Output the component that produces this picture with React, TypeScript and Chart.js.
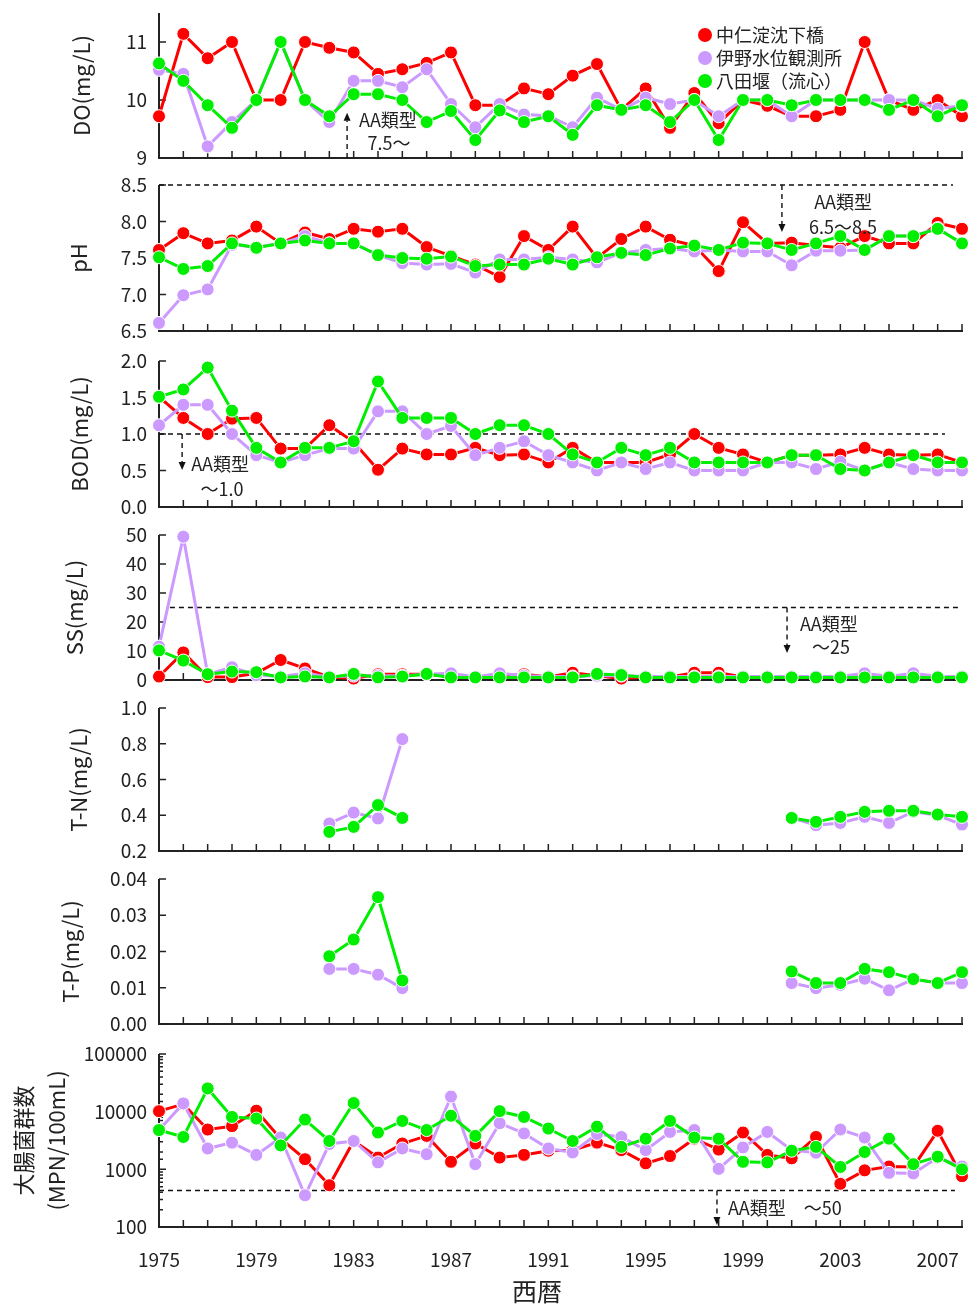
import { useEffect, useRef } from 'react';
import { Chart, registerables } from 'chart.js';

Chart.register(...registerables);

const FONT = "'Noto Sans CJK JP', 'Noto Sans', sans-serif";
Chart.defaults.font.family = FONT;
Chart.defaults.color = '#222';

// ---------------- data ----------------
const YEARS = [
  1975, 1976, 1977, 1978, 1979, 1980, 1981, 1982, 1983, 1984, 1985, 1986,
  1987, 1988, 1989, 1990, 1991, 1992, 1993, 1994, 1995, 1996, 1997, 1998,
  1999, 2000, 2001, 2002, 2003, 2004, 2005, 2006, 2007, 2008,
];
const X_TICK_LABELS = [1975, 1979, 1983, 1987, 1991, 1995, 1999, 2003, 2007];

const SERIES_NAMES = ['中仁淀沈下橋', '伊野水位観測所', '八田堰（流心）'];
const SERIES_COLORS = ['#ff0000', '#cc99ff', '#00ee00'];

const DO_RED = [9.72, 11.14, 10.72, 11.0, 10.0, 10.0, 11.0, 10.9, 10.82, 10.45, 10.53, 10.64, 10.82, 9.91, 9.91, 10.2, 10.1, 10.42, 10.62, 9.83, 10.2, 9.52, 10.12, 9.6, 10.0, 9.9, 9.72, 9.72, 9.83, 11.0, 10.0, 9.83, 10.0, 9.72];
const DO_PURPLE = [10.52, 10.45, 9.2, 9.62, 10.0, 11.0, 10.0, 9.62, 10.33, 10.33, 10.22, 10.53, 9.93, 9.53, 9.93, 9.75, 9.73, 9.53, 10.04, 9.83, 10.04, 9.93, 10.0, 9.72, 10.0, 10.0, 9.72, 10.0, 10.0, 10.0, 10.0, 10.0, 9.85, 9.9];
const DO_GREEN = [10.63, 10.33, 9.91, 9.52, 10.0, 11.0, 10.0, 9.72, 10.1, 10.1, 10.0, 9.62, 9.81, 9.31, 9.82, 9.62, 9.72, 9.4, 9.91, 9.83, 9.91, 9.62, 10.0, 9.31, 10.0, 10.0, 9.91, 10.0, 10.0, 10.0, 9.83, 10.0, 9.72, 9.91];

const PH_RED = [7.61, 7.84, 7.7, 7.74, 7.93, 7.7, 7.85, 7.76, 7.9, 7.86, 7.9, 7.65, 7.53, 7.41, 7.24, 7.8, 7.61, 7.93, 7.5, 7.76, 7.93, 7.75, 7.67, 7.32, 7.99, 7.7, 7.71, 7.67, 7.64, 7.8, 7.7, 7.7, 7.98, 7.9];
const PH_PURPLE = [6.61, 6.99, 7.07, 7.68, 7.65, 7.7, 7.8, 7.7, 7.7, 7.54, 7.43, 7.41, 7.42, 7.3, 7.48, 7.48, 7.51, 7.48, 7.44, 7.57, 7.61, 7.63, 7.59, 7.61, 7.59, 7.59, 7.4, 7.6, 7.6, 7.61, 7.8, 7.8, 7.91, 7.7];
const PH_GREEN = [7.51, 7.35, 7.39, 7.7, 7.64, 7.7, 7.74, 7.7, 7.7, 7.54, 7.5, 7.49, 7.52, 7.39, 7.41, 7.41, 7.49, 7.41, 7.51, 7.57, 7.54, 7.63, 7.67, 7.61, 7.71, 7.7, 7.61, 7.7, 7.8, 7.61, 7.8, 7.8, 7.9, 7.7];

const BOD_RED = [1.51, 1.22, 1.0, 1.21, 1.22, 0.8, 0.8, 1.12, 0.89, 0.51, 0.8, 0.72, 0.72, 0.81, 0.71, 0.72, 0.61, 0.81, 0.61, 0.61, 0.61, 0.72, 1.0, 0.81, 0.72, 0.61, 0.71, 0.71, 0.72, 0.81, 0.72, 0.71, 0.72, 0.61];
const BOD_PURPLE = [1.12, 1.4, 1.4, 1.0, 0.71, 0.61, 0.71, 0.8, 0.8, 1.31, 1.31, 1.0, 1.11, 0.71, 0.81, 0.9, 0.71, 0.61, 0.5, 0.61, 0.52, 0.61, 0.5, 0.5, 0.5, 0.61, 0.61, 0.52, 0.62, 0.5, 0.61, 0.52, 0.5, 0.5];
const BOD_GREEN = [1.51, 1.61, 1.91, 1.32, 0.81, 0.61, 0.81, 0.81, 0.9, 1.72, 1.22, 1.22, 1.22, 1.0, 1.12, 1.12, 1.0, 0.72, 0.61, 0.81, 0.71, 0.81, 0.61, 0.61, 0.61, 0.61, 0.71, 0.71, 0.52, 0.5, 0.61, 0.71, 0.61, 0.61];

const SS_RED = [1.2, 9.5, 1.0, 1.0, 2.3, 6.9, 4.0, 1.0, 0.5, 2.0, 2.0, 2.0, 1.2, 1.0, 1.2, 2.0, 1.0, 2.5, 1.5, 0.5, 1.0, 1.0, 2.5, 2.5, 1.0, 1.0, 1.0, 1.0, 1.0, 1.0, 1.0, 1.0, 1.0, 1.0];
const SS_PURPLE = [11.5, 49.4, 2.0, 4.4, 1.7, 1.2, 2.3, 1.0, 1.5, 1.5, 1.5, 2.0, 2.3, 1.0, 2.3, 1.5, 1.2, 1.2, 1.5, 1.5, 1.2, 1.2, 1.2, 1.2, 1.2, 1.2, 1.2, 1.2, 1.2, 2.3, 1.2, 2.3, 1.2, 1.2];
const SS_GREEN = [10.2, 6.7, 2.0, 2.9, 2.7, 0.9, 1.2, 0.9, 2.1, 0.9, 1.2, 2.1, 0.9, 0.9, 0.9, 0.9, 0.9, 0.9, 2.1, 1.7, 0.9, 0.9, 0.9, 0.9, 0.9, 0.9, 0.9, 0.9, 0.9, 0.9, 0.9, 0.9, 0.9, 0.9];

const N = null;
const TN_RED = [N, N, N, N, N, N, N, N, N, N, N, N, N, N, N, N, N, N, N, N, N, N, N, N, N, N, N, N, N, N, N, N, N, N];
const TN_PURPLE = [N, N, N, N, N, N, N, 0.354, 0.415, 0.382, 0.826, N, N, N, N, N, N, N, N, N, N, N, N, N, N, N, 0.385, 0.344, 0.357, 0.391, 0.357, 0.42, 0.4, 0.348];
const TN_GREEN = [N, N, N, N, N, N, N, 0.307, 0.335, 0.457, 0.385, N, N, N, N, N, N, N, N, N, N, N, N, N, N, N, 0.385, 0.363, 0.391, 0.419, 0.425, 0.425, 0.404, 0.391];

const TP_RED = [N, N, N, N, N, N, N, N, N, N, N, N, N, N, N, N, N, N, N, N, N, N, N, N, N, N, N, N, N, N, N, N, N, N];
const TP_PURPLE = [N, N, N, N, N, N, N, 0.0152, 0.0152, 0.0136, 0.0099, N, N, N, N, N, N, N, N, N, N, N, N, N, N, N, 0.0113, 0.0099, 0.0108, 0.0125, 0.0093, 0.0124, 0.0113, 0.0113];
const TP_GREEN = [N, N, N, N, N, N, N, 0.0187, 0.0233, 0.035, 0.012, N, N, N, N, N, N, N, N, N, N, N, N, N, N, N, 0.0145, 0.0113, 0.0113, 0.0152, 0.0143, 0.0124, 0.0113, 0.0143];

const COLI_RED = [10200, 13500, 4900, 5600, 10400, 3400, 1500, 530, 3100, 1600, 2800, 3800, 1350, 2800, 1600, 1780, 2100, 2150, 2900, 2150, 1270, 1700, 3400, 2200, 4350, 1780, 1550, 3640, 560, 960, 1120, 1100, 4660, 760];
const COLI_PURPLE = [4800, 13900, 2300, 2900, 1780, 3560, 355, 2750, 3100, 1320, 2300, 1830, 18300, 1230, 6300, 4200, 2300, 1960, 4100, 3640, 2150, 4450, 4800, 1020, 2400, 4450, 2150, 1940, 4900, 3560, 870, 850, 1600, 1120];
const COLI_GREEN = [4800, 3640, 25300, 8100, 7600, 2600, 7300, 3100, 14100, 4350, 6900, 4800, 8500, 3800, 10200, 8100, 5100, 3100, 5500, 2450, 3400, 6900, 3550, 3400, 1350, 1320, 2100, 2450, 1100, 2000, 3400, 1230, 1660, 1000];

// environmental standard lines (AA class)
const PH_STANDARD_MAX = 8.5;
const BOD_STANDARD = 1.0;
const SS_STANDARD = 25;
const COLI_STANDARD_LINE = 430;

// ---------------- layout ----------------
const CANVAS_W = 992;
const PLOT_RIGHT = 962;
const Y_AXIS_W = 159;
const PAD = 30;
const PAGE_H = 1305;
const AXIS_COLOR = '#222';

type Ann = {
  hline?: { value: number; from: number; to: number };
  arrow?: { x: number; from: number; to: number };
  texts?: { text: string; x: number; y: number; align?: CanvasTextAlign }[];
};

type Panel = {
  title: string | string[];
  titleCenterX: number;
  titleLineHeight?: number;
  top: number;
  bottom: number;
  type: 'linear' | 'logarithmic';
  min: number;
  max: number;
  step?: number;
  digits?: number;
  data: (number | null)[][];
  ann: Ann;
  legend?: boolean;
};

const PANELS: Panel[] = [
  {
    title: 'DO(mg/L)', titleCenterX: 82, top: 13, bottom: 158, type: 'linear',
    min: 9, max: 11.5, step: 1, digits: 0, data: [DO_RED, DO_PURPLE, DO_GREEN], legend: true,
    ann: {
      arrow: { x: 1982.73, from: 9, to: 9.78 },
      texts: [
        { text: 'AA類型', x: 1984.41, y: 9.655 },
        { text: '7.5〜', x: 1984.45, y: 9.26 },
      ],
    },
  },
  {
    title: 'pH', titleCenterX: 79, top: 185, bottom: 331, type: 'linear',
    min: 6.5, max: 8.5, step: 0.5, digits: 1, data: [PH_RED, PH_PURPLE, PH_GREEN],
    ann: {
      hline: { value: PH_STANDARD_MAX, from: 1975, to: 2007.63 },
      arrow: { x: 2000.6, from: PH_STANDARD_MAX, to: 7.856 },
      texts: [
        { text: 'AA類型', x: 2003.11, y: 8.267 },
        { text: '6.5〜8.5', x: 2003.11, y: 7.925 },
      ],
    },
  },
  {
    title: 'BOD(mg/L)', titleCenterX: 80, top: 361, bottom: 507, type: 'linear',
    min: 0, max: 2, step: 0.5, digits: 1, data: [BOD_RED, BOD_PURPLE, BOD_GREEN],
    ann: {
      hline: { value: BOD_STANDARD, from: 1975, to: 2007.3 },
      arrow: { x: 1975.95, from: BOD_STANDARD, to: 0.507 },
      texts: [
        { text: 'AA類型', x: 1977.51, y: 0.589 },
        { text: '〜1.0', x: 1977.59, y: 0.247 },
      ],
    },
  },
  {
    title: 'SS(mg/L)', titleCenterX: 75, top: 535, bottom: 680, type: 'linear',
    min: 0, max: 50, step: 10, digits: 0, data: [SS_RED, SS_PURPLE, SS_GREEN],
    ann: {
      hline: { value: SS_STANDARD, from: 1975.45, to: 2007.92 },
      arrow: { x: 2000.81, from: SS_STANDARD, to: 9.3 },
      texts: [
        { text: 'AA類型', x: 2002.53, y: 19.3 },
        { text: '〜25', x: 2002.62, y: 11.4 },
      ],
    },
  },
  {
    title: 'T-N(mg/L)', titleCenterX: 79, top: 708, bottom: 851, type: 'linear',
    min: 0.2, max: 1.0, step: 0.2, digits: 1, data: [TN_RED, TN_PURPLE, TN_GREEN],
    ann: {},
  },
  {
    title: 'T-P(mg/L)', titleCenterX: 71, top: 879, bottom: 1024, type: 'linear',
    min: 0, max: 0.04, step: 0.01, digits: 2, data: [TP_RED, TP_PURPLE, TP_GREEN],
    ann: {},
  },
  {
    title: ['大腸菌群数', '(MPN/100mL)'], titleCenterX: 24, titleLineHeight: 1.5,
    top: 1054, bottom: 1227, type: 'logarithmic',
    min: 100, max: 100000, data: [COLI_RED, COLI_PURPLE, COLI_GREEN],
    ann: {
      hline: { value: COLI_STANDARD_LINE, from: 1975, to: 2007.71 },
      arrow: { x: 1997.93, from: COLI_STANDARD_LINE, to: 108 },
      texts: [{ text: 'AA類型　〜50', x: 1998.38, y: 214, align: 'left' }],
    },
  },
];

const LEGEND_X = 705;
const LEGEND_Y0 = 35;
const LEGEND_DY = 23;
const X_TITLE = '西暦';

function isPow10(v: number) {
  const l = Math.log10(v);
  return Math.abs(l - Math.round(l)) < 1e-9;
}

function makeDecor(panel: Panel, canvasTop: number, isLast: boolean) {
  return {
    id: 'decor',
    beforeDatasetsDraw(chart: any) {
      const { ctx, chartArea: a, scales } = chart;
      const xs = scales.x;
      const ys = scales.y;
      ctx.save();
      // axis lines
      ctx.strokeStyle = AXIS_COLOR;
      ctx.lineWidth = 2;
      ctx.setLineDash([]);
      ctx.beginPath();
      ctx.moveTo(a.left, a.top);
      ctx.lineTo(a.left, a.bottom);
      ctx.lineTo(a.right + 1, a.bottom);
      ctx.stroke();
      // inside tick marks
      ctx.lineWidth = 1.5;
      ctx.beginPath();
      for (const t of xs.ticks) {
        const px = xs.getPixelForValue(t.value);
        ctx.moveTo(px, a.bottom);
        ctx.lineTo(px, a.bottom - 7);
      }
      for (const t of ys.ticks) {
        const py = ys.getPixelForValue(t.value);
        const major = panel.type === 'logarithmic' ? isPow10(t.value) : true;
        ctx.moveTo(a.left, py);
        ctx.lineTo(a.left + (major ? 7 : 4), py);
      }
      ctx.stroke();
      // reference line and arrow
      ctx.strokeStyle = '#111';
      ctx.fillStyle = '#111';
      ctx.lineWidth = 1.4;
      const { hline, arrow } = panel.ann;
      if (hline) {
        const py = ys.getPixelForValue(hline.value);
        ctx.setLineDash([5, 4]);
        ctx.beginPath();
        ctx.moveTo(xs.getPixelForValue(hline.from), py);
        ctx.lineTo(xs.getPixelForValue(hline.to), py);
        ctx.stroke();
      }
      if (arrow) {
        const ax = xs.getPixelForValue(arrow.x);
        const y0 = ys.getPixelForValue(arrow.from);
        const y1 = ys.getPixelForValue(arrow.to);
        const dir = Math.sign(y1 - y0);
        const head = 8;
        ctx.setLineDash([5, 4]);
        ctx.beginPath();
        ctx.moveTo(ax, y0);
        ctx.lineTo(ax, y1 - dir * head);
        ctx.stroke();
        ctx.setLineDash([]);
        ctx.beginPath();
        ctx.moveTo(ax, y1);
        ctx.lineTo(ax - 3.5, y1 - dir * head);
        ctx.lineTo(ax + 3.5, y1 - dir * head);
        ctx.closePath();
        ctx.fill();
      }
      ctx.restore();
    },
    afterDatasetsDraw(chart: any) {
      const { ctx, scales } = chart;
      const xs = scales.x;
      const ys = scales.y;
      ctx.save();
      ctx.fillStyle = '#222';
      ctx.textBaseline = 'middle';
      ctx.font = `18px ${FONT}`;
      for (const t of panel.ann.texts || []) {
        ctx.textAlign = t.align || 'center';
        ctx.fillText(t.text, xs.getPixelForValue(t.x), ys.getPixelForValue(t.y));
      }
      if (panel.legend) {
        SERIES_NAMES.forEach((name, i) => {
          const cy = LEGEND_Y0 + i * LEGEND_DY - canvasTop;
          ctx.beginPath();
          ctx.fillStyle = SERIES_COLORS[i];
          ctx.arc(LEGEND_X, cy, 7, 0, Math.PI * 2);
          ctx.fill();
          ctx.fillStyle = '#222';
          ctx.textAlign = 'left';
          ctx.fillText(name, LEGEND_X + 11, cy);
        });
      }
      if (isLast) {
        ctx.font = `25px ${FONT}`;
        ctx.textAlign = 'center';
        ctx.fillStyle = '#222';
        ctx.fillText(X_TITLE, 537, 1291 - canvasTop);
      }
      ctx.restore();
    },
  };
}

function PanelChart({ panel, isLast }: { panel: Panel; isLast: boolean }) {
  const ref = useRef<HTMLCanvasElement | null>(null);
  const canvasTop = panel.top - PAD;
  const height = isLast ? PAGE_H - canvasTop : panel.bottom - panel.top + 2 * PAD;

  useEffect(() => {
    if (!ref.current) return;
    const titleFontSize = 22;
    const titleLH = panel.titleLineHeight || 1.2;
    const datasets = panel.data.map((vals, i) => ({
      label: SERIES_NAMES[i],
      data: vals.map((v, j) => ({ x: YEARS[j], y: v })),
      borderColor: SERIES_COLORS[i],
      backgroundColor: SERIES_COLORS[i],
      pointBackgroundColor: SERIES_COLORS[i],
      pointBorderColor: '#ffffff',
      pointBorderWidth: 1,
      pointRadius: 6.5,
      borderWidth: 3,
      tension: 0,
      spanGaps: false,
      clip: false as any,
      order: 2 - i,
    }));

    const chart = new Chart(ref.current, {
      type: 'line',
      data: { datasets: datasets as any },
      options: {
        animation: false,
        responsive: false,
        maintainAspectRatio: false,
        events: [],
        layout: {
          padding: { top: PAD, bottom: isLast ? 0 : PAD, left: 0, right: CANVAS_W - PLOT_RIGHT },
        },
        plugins: { legend: { display: false }, tooltip: { enabled: false } },
        scales: {
          x: {
            type: 'linear',
            min: 1975,
            max: 2008,
            grid: { display: false, drawTicks: false, tickLength: 0 },
            border: { display: false },
            ticks: {
              display: isLast,
              stepSize: 1,
              autoSkip: false,
              maxRotation: 0,
              minRotation: 0,
              padding: 21,
              color: '#222',
              font: { size: 19 },
              callback: (v: any) => (X_TICK_LABELS.includes(Number(v)) ? String(v) : ''),
            },
            afterFit: (s: any) => {
              s.height = isLast ? PAGE_H - panel.bottom : 0;
            },
          },
          y: {
            type: panel.type,
            min: panel.min,
            max: panel.max,
            grid: { display: false, drawTicks: false, tickLength: 0 },
            border: { display: false },
            title: {
              display: true,
              text: panel.title,
              color: '#222',
              font: { size: titleFontSize, lineHeight: titleLH },
              padding: { top: panel.titleCenterX - (titleFontSize * titleLH) / 2, bottom: 0 },
            },
            ticks: {
              autoSkip: false,
              includeBounds: false,
              padding: 12,
              color: '#222',
              font: { size: 19 },
              ...(panel.step ? { stepSize: panel.step } : {}),
              callback: (v: any) => {
                const n = Number(v);
                if (panel.type === 'logarithmic') return isPow10(n) ? String(Math.round(n)) : '';
                return n.toFixed(panel.digits || 0);
              },
            },
            afterFit: (s: any) => {
              s.width = Y_AXIS_W;
            },
          } as any,
        },
      },
      plugins: [makeDecor(panel, canvasTop, isLast)],
    });
    return () => chart.destroy();
  }, [panel, isLast, canvasTop]);

  return (
    <canvas
      ref={ref}
      width={CANVAS_W}
      height={height}
      style={{ position: 'absolute', left: 0, top: canvasTop, width: CANVAS_W, height, display: 'block' }}
    />
  );
}

export default function App() {
  return (
    <div
      style={{
        position: 'absolute',
        left: 0,
        top: 0,
        width: 968,
        height: PAGE_H,
        overflow: 'hidden',
        background: '#ffffff',
      }}
    >
      {PANELS.map((p, i) => (
        <PanelChart key={i} panel={p} isLast={i === PANELS.length - 1} />
      ))}
    </div>
  );
}
